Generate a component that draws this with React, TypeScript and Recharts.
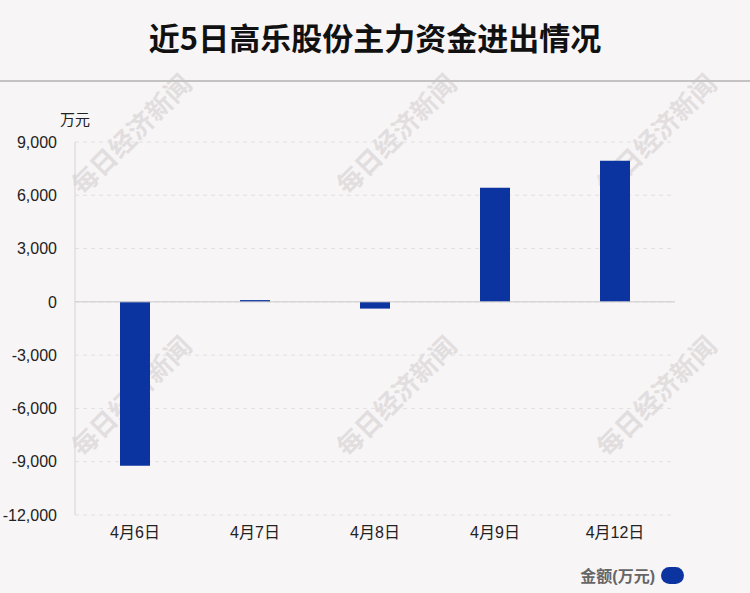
import { BarChart, Bar, XAxis, YAxis, CartesianGrid, ReferenceLine, Label } from 'recharts';

const days = ['4月6日', '4月7日', '4月8日', '4月9日', '4月12日'];
const amounts = [-9230, 100, -380, 6420, 7940];
const yTicks = [9000, 6000, 3000, 0, -3000, -6000, -9000, -12000];

const title = '近5日高乐股份主力资金进出情况';
const seriesName = '金额(万元)';
const unit = '万元';
const watermark = '每日经济新闻';
const watermarkSpots = [
  [130, 133], [395, 133], [655, 133],
  [130, 395], [395, 395], [655, 395],
];

const data = days.map((day, i) => ({ day, amount: amounts[i] }));

const BAR_COLOR = '#0c34a0';
const FONT = '"Liberation Sans", Arial, "Noto Sans CJK SC", sans-serif';

export default function App() {
  return (
    <div style={{ position: 'fixed', left: 0, top: 0, width: 750, height: 593, background: '#f8f5f6', fontFamily: FONT, overflow: 'hidden' }}>
      <svg width={750} height={593} style={{ position: 'absolute', left: 0, top: 0 }}>
        {watermarkSpots.map(([x, y], i) => (
          <text
            key={i}
            x={x}
            y={y}
            transform={`rotate(-45 ${x} ${y})`}
            textAnchor="middle"
            dominantBaseline="central"
            fontSize={26}
            fontWeight="bold"
            fill="#e2dedf"
            fontFamily='"Noto Sans CJK SC", sans-serif'
          >
            {watermark}
          </text>
        ))}
      </svg>
      <div style={{ position: 'absolute', top: 15, left: 0, width: 750, textAlign: 'center', fontSize: 31, fontWeight: 'bold', color: '#111', fontFamily: '"Noto Sans CJK SC", sans-serif', lineHeight: '44px' }}>
        {title}
      </div>
      <div style={{ position: 'absolute', top: 80, left: 0, width: 750, height: 2, background: '#c4c2c3' }} />
      <div style={{ position: 'absolute', left: 0, top: 0 }}>
        <BarChart width={750} height={593} data={data} margin={{ top: 142, right: 75, left: 0, bottom: 48 }} style={{ fontFamily: FONT }}>
          <CartesianGrid vertical={false} strokeDasharray="4 4" stroke="#e2dfe0" />
          <XAxis
            dataKey="day"
            axisLine={false}
            tickLine={false}
            height={30}
            tick={{ fill: '#222', fontSize: 16 }}
            tickMargin={6}
          />
          <YAxis
            width={75}
            domain={[-12000, 9000]}
            ticks={yTicks}
            interval={0}
            tickFormatter={(v: number) => v.toLocaleString('en-US')}
            axisLine={{ stroke: '#d6d3d4' }}
            tickLine={false}
            tick={{ fill: '#222', fontSize: 16 }}
            tickMargin={12}
          >
            <Label value={unit} position="insideTopLeft" offset={0} dx={60} dy={-28} fill="#222" fontSize={15} />
          </YAxis>
          <ReferenceLine y={0} stroke="#cccacb" strokeWidth={1} />
          <Bar dataKey="amount" name={seriesName} fill={BAR_COLOR} barSize={30} isAnimationActive={false} />
        </BarChart>
      </div>
      <div style={{ position: 'absolute', top: 563, right: 66, display: 'flex', alignItems: 'center', gap: 6 }}>
        <span style={{ fontSize: 16, fontWeight: 'bold', color: '#666' }}>{seriesName}</span>
        <span style={{ display: 'inline-block', width: 23, height: 17, borderRadius: 9, background: BAR_COLOR }} />
      </div>
    </div>
  );
}
